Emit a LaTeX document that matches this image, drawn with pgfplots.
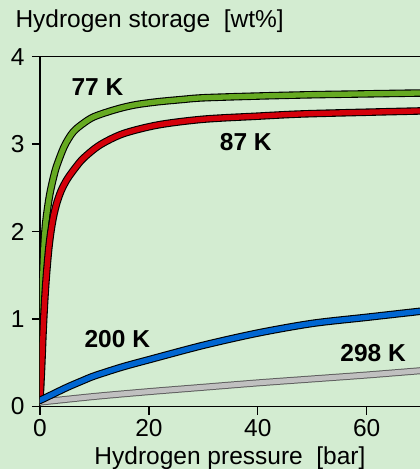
\documentclass[border=0pt]{standalone}
\usepackage{pgfplots}
\pgfplotsset{compat=1.18}
\usepackage{pgfplotstable}
\usepackage{fontspec}
\setmainfont{Liberation Sans}
\definecolor{bg}{RGB}{211,236,209}
\definecolor{cgreen}{RGB}{102,170,34}
\definecolor{cred}{RGB}{212,0,10}
\definecolor{cblue}{RGB}{0,102,210}
\definecolor{cgray}{RGB}{192,192,192}
\definecolor{cgrayedge}{RGB}{95,95,95}

\pgfplotstableread{
x y
0 0.07
0.2 0.7
0.4 1.3
0.7 1.8
1.0 2.07
1.4 2.27
1.84 2.44
2.4 2.6
3.06 2.75
4.5 2.98
6.1 3.14
8 3.24
9.8 3.31
12.5 3.37
15.3 3.42
18 3.455
21.7 3.485
26 3.51
30 3.53
40 3.55
50 3.565
60 3.575
70 3.585
}\tabA

\pgfplotstableread{
x y
0 0.07
0.3 0.45
0.6 0.9
0.9 1.25
1.2 1.52
1.6 1.8
2.0 2.0
2.5 2.18
3.1 2.33
3.9 2.47
5 2.6
6.5 2.73
8 2.84
11 2.99
15.3 3.12
21.7 3.22
30 3.285
40 3.32
48 3.345
60 3.365
70 3.38
}\tabB

\pgfplotstableread{
x y
0 0.07
2 0.13
5 0.22
8 0.30
10 0.35
15 0.45
20 0.535
30 0.70
40 0.84
50 0.95
60 1.02
70 1.09
}\tabC

\pgfplotstableread{
x y
0 0.05
10 0.115
20 0.17
30 0.22
40 0.27
50 0.315
60 0.36
70 0.41
}\tabD

\begin{document}
\begin{tikzpicture}
\fill[bg] (-40bp,-62.5bp) rectangle (380bp,406.5bp);
\begin{axis}[
  at={(0,0)}, anchor=south west,
  scale only axis, width=380bp, height=349.8bp,
  xmin=0, xmax=69.8, ymin=0, ymax=4,
  axis x line*=box, axis y line*=left,
  axis line style={line width=1.6bp, black},
  xtick={0,20,40,60}, ytick={0,1,2,3,4},
  xtick pos=bottom, ytick pos=left,
  tick align=outside,
  major tick length=8bp,
  tick style={line width=1.3bp, black},
  /pgf/number format/assume math mode=true,
  tick label style={font=\fontsize{24.5bp}{29bp}\selectfont},
  yticklabel style={anchor=east, xshift=-4bp},
  xticklabel style={anchor=north, yshift=-1bp},
  xlabel={Hydrogen pressure\ \ [bar]},
  ylabel={Hydrogen storage\ \ [wt\%]},
  label style={font=\fontsize{24.5bp}{29bp}\selectfont},
  xlabel style={at={(axis description cs:0.5,0)}, anchor=base, yshift=-57.5bp},
  ylabel style={at={(axis description cs:0,1)}, rotate=-90, anchor=base west, xshift=-28bp, yshift=29.4bp},
  clip=true,
  every axis plot/.append style={smooth, tension=0.5, line join=round, line cap=round},
]
\addplot[black, line width=7.5bp] table[x=x,y=y]{\tabA};
\addplot[cgreen, line width=5.3bp] table[x=x,y=y]{\tabA};
\addplot[black, line width=7.5bp] table[x=x,y=y]{\tabB};
\addplot[cred, line width=5.3bp] table[x=x,y=y]{\tabB};
\addplot[cgrayedge, line width=7bp] table[x=x,y=y]{\tabD};
\addplot[cgray, line width=5bp] table[x=x,y=y]{\tabD};
\addplot[black, line width=7.5bp] table[x=x,y=y]{\tabC};
\addplot[cblue, line width=5.3bp] table[x=x,y=y]{\tabC};
\node[font=\fontsize{24.5bp}{29bp}\selectfont\bfseries] at (axis cs:10.55,3.65) {77 K};
\node[font=\fontsize{24.5bp}{29bp}\selectfont\bfseries] at (axis cs:37.8,3.02) {87 K};
\node[font=\fontsize{24.5bp}{29bp}\selectfont\bfseries] at (axis cs:14.2,0.77) {200 K};
\node[font=\fontsize{24.5bp}{29bp}\selectfont\bfseries] at (axis cs:61.2,0.61) {298 K};
\end{axis}
\pgfresetboundingbox
\useasboundingbox (-40bp,-62.5bp) rectangle (380bp,406.5bp);
\end{tikzpicture}
\end{document}
